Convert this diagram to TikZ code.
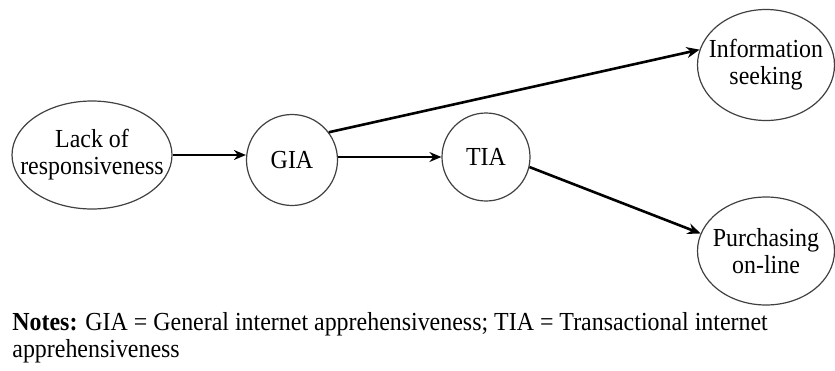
\documentclass[tikz,border=0pt]{standalone}
\usepackage{fontspec}
\setmainfont{Liberation Serif}[FakeStretch=0.92]
\usetikzlibrary{shapes.geometric,arrows.meta}
\newcommand{\zc}[1]{\makebox[0pt][c]{#1}}
\tikzset{
  px/.style={x=0.5pt,y=-0.5pt},
  txt/.style={font=\fontsize{13}{13.5}\selectfont},
  oval/.style={ellipse,draw=black!75,line width=0.6pt,inner sep=0pt,align=center,txt},
  circ/.style={circle,draw=black!75,line width=0.6pt,inner sep=0pt,align=center,txt},
  thin arrow/.style={line width=0.8pt,-{Stealth[length=6pt,width=5pt]}},
  thick arrow/.style={line width=1.3pt,-{Stealth[length=6.5pt,width=5.5pt]}},
}
\begin{document}
\begin{tikzpicture}[px]
\useasboundingbox (0,0) rectangle (835,370);
\node[oval,minimum width=80pt,minimum height=54pt] (lack) at (92,155) {\zc{Lack of}\\\zc{responsiveness}};
\node[circ,minimum size=45.5pt] (gia) at (292,160) {GIA};
\node[circ,minimum size=44pt] (tia) at (486,157) {TIA};
\node[oval,minimum width=68.5pt,minimum height=55.5pt] (info) at (766,65) {\zc{Information}\\\zc{seeking}};
\node[oval,minimum width=68.5pt,minimum height=54pt] (purch) at (766,251) {\zc{Purchasing}\\\zc{on-line}};
\draw[thin arrow] (lack.east) -- (lack.east -| gia.west);
\draw[thin arrow] (tia.west -| gia.east) -- (tia.west);
\draw[thick arrow] (gia.37) -- (info.167);
\draw[thick arrow] (tia.-13) -- (purch.165);
\node[anchor=base west,inner sep=0pt,align=left,txt] (notes) at (12,357)
  {\textbf{Notes:} GIA = General internet apprehensiveness; TIA = Transactional internet\\apprehensiveness};
\end{tikzpicture}
\end{document}
